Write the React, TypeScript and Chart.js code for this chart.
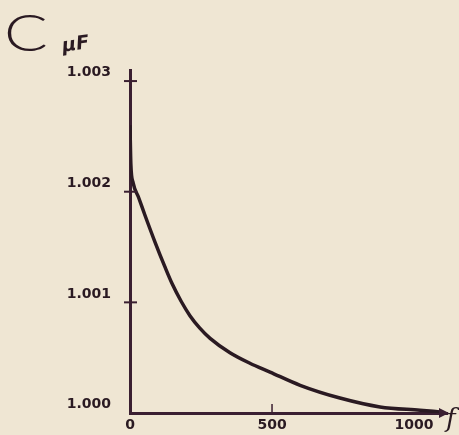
import { useEffect, useRef } from 'react';
import { Chart, registerables } from 'chart.js';

Chart.register(...registerables);

// frequency f (x) and capacitance C in µF (y)
const frequency = [0, 3, 11, 30, 53, 88, 123, 148, 180, 211, 245, 282, 352, 422, 493, 599, 739, 880, 1021, 1092];
const capacitance = [
  1.0026, 1.00225, 1.00208, 1.00195, 1.001785, 1.001545, 1.00132, 1.00117, 1.00101, 1.00088,
  1.00077, 1.000675, 1.000545, 1.00045, 1.00037, 1.00025, 1.000135, 1.000055, 1.000025, 1.00001,
];
const yTickValues = [1.0, 1.001, 1.002, 1.003];
const xTickValues = [0, 500, 1000];

const INK = '#2a1a22';
const AXIS = '#3a1f31';
const PAPER = '#efe6d3';

const axisMarks = {
  id: 'axisMarks',
  afterDraw(chart: any) {
    const { ctx, scales } = chart;
    const x = scales.x;
    const y = scales.y;
    const x0 = x.getPixelForValue(0);
    const y0 = y.getPixelForValue(yTickValues[0]);
    ctx.save();
    ctx.strokeStyle = AXIS;
    ctx.lineWidth = 2;
    yTickValues.slice(1).forEach((v) => {
      const py = y.getPixelForValue(v);
      ctx.beginPath();
      ctx.moveTo(x0 - 6, py);
      ctx.lineTo(x0 + 7, py);
      ctx.stroke();
    });
    ctx.lineWidth = 1.5;
    xTickValues.slice(1, 2).forEach((v) => {
      const px = x.getPixelForValue(v);
      ctx.beginPath();
      ctx.moveTo(px, y0 - 9);
      ctx.lineTo(px, y0);
      ctx.stroke();
    });
    const xe = x.getPixelForValue(x.max);
    ctx.fillStyle = AXIS;
    ctx.beginPath();
    ctx.moveTo(xe + 2, y0);
    ctx.lineTo(xe - 8, y0 - 5);
    ctx.lineTo(xe - 8, y0 + 5);
    ctx.closePath();
    ctx.fill();
    ctx.restore();
  },
};

export default function App() {
  const ref = useRef<HTMLCanvasElement | null>(null);

  useEffect(() => {
    if (!ref.current) return;
    const tickFont = { family: 'DejaVu Sans', size: 14, weight: 'bold' as const };
    const chart = new Chart(ref.current, {
      type: 'line',
      data: {
        datasets: [
          {
            data: frequency.map((f, i) => ({ x: f, y: capacitance[i] })),
            borderColor: INK,
            borderWidth: 3.5,
            pointRadius: 0,
            cubicInterpolationMode: 'monotone',
            fill: false,
          },
        ],
      },
      options: {
        animation: false,
        responsive: false,
        devicePixelRatio: 1,
        layout: { padding: { top: 70, right: 12, left: 0, bottom: 0 } },
        plugins: { legend: { display: false }, tooltip: { enabled: false }, title: { display: false } },
        scales: {
          x: {
            type: 'linear',
            min: 0,
            max: 1116,
            afterBuildTicks: (s: any) => {
              s.ticks = xTickValues.map((v) => ({ value: v }));
            },
            afterFit: (s: any) => {
              s.height = 22;
              s.paddingLeft = 0;
              s.paddingRight = 0;
            },
            ticks: {
              font: tickFont,
              color: INK,
              padding: 4,
              maxRotation: 0,
              autoSkip: false,
              callback: (v: any) => String(v),
            },
            grid: { display: false, drawTicks: false },
            border: { display: true, color: AXIS, width: 3 },
          },
          y: {
            type: 'linear',
            min: 1.0,
            max: 1.0031,
            afterBuildTicks: (s: any) => {
              s.ticks = yTickValues.map((v) => ({ value: v }));
            },
            afterFit: (s: any) => {
              s.width = 130;
              s.paddingTop = 0;
              s.paddingBottom = 0;
            },
            ticks: {
              font: tickFont,
              color: INK,
              padding: 19,
              autoSkip: false,
              callback: (v: any) => [Number(v).toFixed(3), ''],
            },
            grid: { display: false, drawTicks: false },
            border: { display: true, color: AXIS, width: 3 },
          },
        },
      },
      plugins: [axisMarks],
    });
    return () => chart.destroy();
  }, []);

  return (
    <div
      style={{
        position: 'fixed',
        left: 0,
        top: 0,
        width: 459,
        height: 435,
        background: PAPER,
        overflow: 'hidden',
      }}
    >
      <canvas ref={ref} width={459} height={435} style={{ display: 'block' }} />
      <span
        style={{
          position: 'absolute',
          left: 4,
          top: 6,
          font: '300 51px Lato',
          lineHeight: '51px',
          color: INK,
          transform: 'scaleX(1.27)',
          transformOrigin: 'left top',
        }}
      >
        C
      </span>
      <span
        style={{
          position: 'absolute',
          left: 62,
          top: 32,
          font: 'italic 600 19px "DejaVu Sans"',
          lineHeight: '22px',
          color: INK,
          transform: 'rotate(-8deg)',
        }}
      >
        µF
      </span>
      <span
        style={{
          position: 'absolute',
          left: 446,
          top: 403,
          font: 'italic 26px "DejaVu Serif"',
          lineHeight: '30px',
          color: INK,
        }}
      >
        f
      </span>
    </div>
  );
}
